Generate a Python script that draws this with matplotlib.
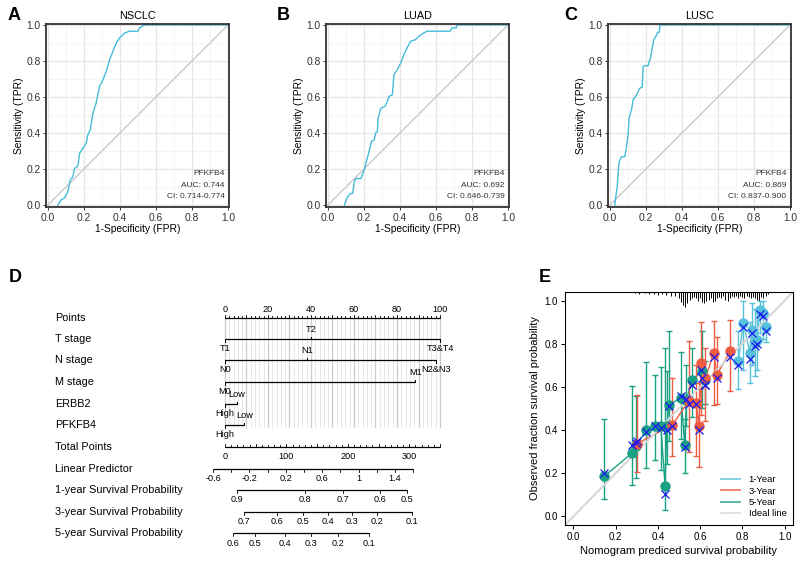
import matplotlib.pyplot as plt
from matplotlib.lines import Line2D

plt.rcParams['font.family'] = ['Liberation Sans', 'DejaVu Sans']

# ---------------- ROC data (panels A-C) ----------------
roc_letters = ['A', 'B', 'C']
roc_titles = ['NSCLC', 'LUAD', 'LUSC']
roc_gene = 'PFKFB4'
roc_auc = ['AUC: 0.744', 'AUC: 0.692', 'AUC: 0.869']
roc_ci = ['CI: 0.714-0.774', 'CI: 0.646-0.739', 'CI: 0.837-0.900']

nsclc_fpr = [0.056, 0.074, 0.093, 0.111, 0.124, 0.139, 0.148, 0.167, 0.176, 0.194, 0.213,
             0.222, 0.235, 0.250, 0.268, 0.287, 0.306, 0.324, 0.343, 0.361, 0.380, 0.398,
             0.426, 0.454, 0.500, 0.509, 0.528, 0.546, 1.0]
nsclc_tpr = [0.0, 0.03, 0.04, 0.074, 0.139, 0.158, 0.204, 0.217, 0.287, 0.315, 0.343,
             0.39, 0.417, 0.51, 0.566, 0.659, 0.696, 0.742, 0.807, 0.853, 0.90, 0.928,
             0.955, 0.965, 0.965, 0.983, 0.996, 1.0, 1.0]

luad_fpr = [0.092, 0.101, 0.110, 0.125, 0.138, 0.147, 0.156, 0.183, 0.202, 0.211, 0.229,
            0.242, 0.257, 0.266, 0.275, 0.279, 0.294, 0.316, 0.330, 0.339, 0.358, 0.367,
            0.385, 0.404, 0.422, 0.440, 0.459, 0.486, 0.505, 0.532, 0.550, 0.679, 0.688,
            0.712, 0.716, 1.0]
luad_tpr = [0.0, 0.028, 0.046, 0.065, 0.065, 0.13, 0.148, 0.148, 0.195, 0.232, 0.297,
            0.353, 0.362, 0.403, 0.408, 0.482, 0.538, 0.547, 0.575, 0.603, 0.612, 0.724,
            0.751, 0.788, 0.835, 0.872, 0.909, 0.918, 0.937, 0.955, 0.965, 0.965, 0.983,
            0.983, 1.0, 1.0]

lusc_fpr = [0.028, 0.033, 0.041, 0.046, 0.052, 0.065, 0.083, 0.093, 0.102, 0.107, 0.120,
            0.130, 0.144, 0.157, 0.167, 0.180, 0.185, 0.194, 0.213, 0.218, 0.226, 0.237,
            0.244, 0.256, 0.265, 0.274, 0.278, 1.0]
lusc_tpr = [0.0, 0.046, 0.102, 0.176, 0.241, 0.269, 0.269, 0.325, 0.399, 0.482, 0.529,
            0.588, 0.603, 0.631, 0.649, 0.655, 0.77, 0.774, 0.774, 0.798, 0.816, 0.881,
            0.918, 0.937, 0.959, 0.959, 1.0, 1.0]

roc_fpr = [nsclc_fpr, luad_fpr, lusc_fpr]
roc_tpr = [nsclc_tpr, luad_tpr, lusc_tpr]

# ---------------- nomogram data (panel D) ----------------
row_names = ['Points', 'T stage', 'N stage', 'M stage', 'ERBB2', 'PFKFB4', 'Total Points',
             'Linear Predictor', '1-year Survival Probability',
             '3-year Survival Probability', '5-year Survival Probability']

t_labels = ['T1', 'T2', 'T3&T4']
t_points = [0, 40, 100]
n_labels = ['N0', 'N1', 'N2&N3']
n_points = [0, 38, 98]
m_labels = ['M0', 'M1']
m_points = [0, 88.5]
erbb2_labels = ['High', 'Low']
erbb2_points = [0, 5.5]
pfkfb4_labels = ['High', 'Low']
pfkfb4_points = [0, 9]

total_max = 350
total_labels = [0, 100, 200, 300]

lp_ticks = [-0.6, -0.4, -0.2, 0.0, 0.2, 0.4, 0.6, 0.8, 1.0, 1.2, 1.4, 1.6]
lp_labels = ['-0.6', '-0.2', '0.2', '0.6', '1', '1.4']
lp_zero_total = 69.4      # total points where linear predictor = 0
lp_total_per_unit = 148.1

surv1_probs = ['0.9', '0.8', '0.7', '0.6', '0.5']
surv1_total = [19.5, 130.2, 192.1, 252.3, 296.3]
surv3_probs = ['0.7', '0.6', '0.5', '0.4', '0.3', '0.2', '0.1']
surv3_total = [30.9, 84.7, 127.0, 167.7, 206.7, 247.4, 304.4]
surv5_probs = ['0.6', '0.5', '0.4', '0.3', '0.2', '0.1']
surv5_total = [13.0, 48.8, 97.7, 140.0, 184.0, 234.4]

# ---------------- calibration data (panel E) ----------------
y1_pred = [0.781, 0.805, 0.836, 0.845, 0.859, 0.870, 0.883, 0.898, 0.911]
y1_obs = [0.719, 0.896, 0.757, 0.866, 0.804, 0.819, 0.958, 0.943, 0.878]
y1_lo = [0.590, 0.680, 0.620, 0.700, 0.650, 0.680, 0.850, 0.820, 0.810]
y1_hi = [0.860, 1.000, 0.900, 0.990, 0.960, 0.950, 1.000, 1.000, 0.940]
y1_cor = [0.700, 0.880, 0.730, 0.850, 0.790, 0.800, 0.940, 0.930, 0.860]

y3_pred = [0.302, 0.469, 0.545, 0.581, 0.594, 0.606, 0.625, 0.664, 0.680, 0.742]
y3_obs = [0.337, 0.425, 0.533, 0.526, 0.417, 0.711, 0.640, 0.757, 0.657, 0.765]
y3_lo = [0.204, 0.281, 0.300, 0.278, 0.229, 0.470, 0.440, 0.518, 0.520, 0.580]
y3_hi = [0.564, 0.641, 0.812, 0.700, 0.620, 0.900, 0.780, 0.904, 0.830, 0.912]
y3_cor = [0.350, 0.420, 0.520, 0.520, 0.400, 0.680, 0.610, 0.740, 0.640, 0.740]

y5_pred = [0.145, 0.278, 0.297, 0.344, 0.388, 0.414, 0.434, 0.442, 0.453, 0.510, 0.527,
           0.535, 0.563, 0.609, 0.625]
y5_obs = [0.185, 0.294, 0.325, 0.399, 0.417, 0.417, 0.142, 0.417, 0.518, 0.549, 0.332,
          0.540, 0.634, 0.672, 0.634]
y5_lo = [0.080, 0.147, 0.178, 0.224, 0.263, 0.216, 0.031, 0.244, 0.348, 0.360, 0.200,
         0.420, 0.460, 0.502, 0.520]
y5_hi = [0.451, 0.603, 0.560, 0.714, 0.657, 0.692, 0.781, 0.672, 0.858, 0.760, 0.450,
         0.700, 0.780, 0.858, 0.720]
y5_cor = [0.200, 0.330, 0.340, 0.390, 0.420, 0.410, 0.105, 0.400, 0.510, 0.560, 0.320,
          0.545, 0.610, 0.640, 0.610]

rug_x = [0.29, 0.31, 0.34, 0.36, 0.38, 0.40, 0.42, 0.44, 0.46, 0.48, 0.50, 0.51, 0.52,
         0.53, 0.54, 0.55, 0.56, 0.57, 0.58, 0.59, 0.60, 0.61, 0.62, 0.63, 0.64, 0.65,
         0.66, 0.67, 0.68, 0.69, 0.70, 0.71, 0.72, 0.73, 0.74, 0.75, 0.76, 0.77, 0.78,
         0.79, 0.80, 0.81, 0.82, 0.83, 0.84, 0.85, 0.86, 0.87, 0.88, 0.89, 0.90, 0.91,
         0.92]
rug_h = [0.005, 0.008, 0.006, 0.010, 0.008, 0.012, 0.010, 0.015, 0.018, 0.020, 0.030,
         0.045, 0.060, 0.070, 0.050, 0.035, 0.030, 0.025, 0.030, 0.040, 0.030, 0.045,
         0.050, 0.040, 0.035, 0.030, 0.045, 0.040, 0.030, 0.025, 0.030, 0.020, 0.035,
         0.040, 0.030, 0.020, 0.025, 0.020, 0.030, 0.020, 0.025, 0.030, 0.020, 0.025,
         0.030, 0.025, 0.030, 0.035, 0.040, 0.025, 0.030, 0.020, 0.010]

legend_names = ['1-Year', '3-Year', '5-Year', 'Ideal line']

# ---------------- styles ----------------
c_roc = '#45BCD8'
c1, c3, c5 = '#56C1DB', '#EE5C42', '#1AA083'
c_ideal = '#D6D6D6'

W, H = 799, 564
fig = plt.figure(figsize=(W / 100, H / 100), dpi=100)


def px_axes(left, top, right, bottom):
    return fig.add_axes([left / W, 1 - bottom / H, (right - left) / W, (bottom - top) / H])


def panel_letter(x, y, s):
    fig.text(x / W, 1 - y / H, s, fontsize=13, fontweight='bold', va='center', ha='left')


# ---------------- panels A-C ----------------
roc_lefts = [46, 326, 608]
letter_x = [8, 277, 564]
for i in range(3):
    ax = px_axes(roc_lefts[i], 24, roc_lefts[i] + 183, 207)
    ax.set_xlim(-0.01, 1.005)
    ax.set_ylim(-0.01, 1.005)
    ax.set_xticks([0, 0.2, 0.4, 0.6, 0.8, 1.0])
    ax.set_yticks([0, 0.2, 0.4, 0.6, 0.8, 1.0])
    ax.set_xticks([0.1, 0.3, 0.5, 0.7, 0.9], minor=True)
    ax.set_yticks([0.1, 0.3, 0.5, 0.7, 0.9], minor=True)
    ax.grid(which='major', color='#E6E6E6', lw=0.9)
    ax.grid(which='minor', color='#F0F0F0', lw=0.5)
    ax.set_axisbelow(True)
    ax.tick_params(which='minor', length=0)
    ax.tick_params(which='major', length=2.5, width=0.7, color='#333333',
                   labelsize=7.4, labelcolor='#333333', pad=1.5)
    for s in ax.spines.values():
        s.set_color('#333333')
        s.set_linewidth(1.3)
    ax.plot([0, 1], [0, 1], color='#BEBEBE', lw=0.8)
    ax.plot(roc_fpr[i], roc_tpr[i], color=c_roc, lw=1.0)
    ax.set_title(roc_titles[i], fontsize=7.8, pad=3.5)
    ax.set_xlabel('1-Specificity (FPR)', fontsize=7.4, labelpad=1.0)
    ax.set_ylabel('Sensitivity (TPR)', fontsize=7.4, labelpad=1.5)
    for txt, yy in zip([roc_gene, roc_auc[i], roc_ci[i]], [0.176, 0.111, 0.046]):
        ax.text(0.98, yy, txt, ha='right', va='center', fontsize=6.0, color='#333333')
    panel_letter(letter_x[i], 15, roc_letters[i])

# ---------------- panel D: nomogram ----------------
axd = fig.add_axes([0, 0, 530 / W, 279 / H])
axd.set_xlim(-104.65, 141.86)
axd.set_ylim(564, 285)
axd.axis('off')
row_y = [318, 339, 360, 382, 404, 425, 447, 469, 490, 512, 533]
lab_x = -79
lk = dict(color='black', lw=0.9, solid_capstyle='butt')

for name, yy in zip(row_names, row_y):
    axd.text(lab_x, yy, name, fontsize=7.8, va='center', ha='left')

# grid lines
for v in range(0, 101, 2):
    major = v % 10 == 0
    axd.plot([v, v], [row_y[0], 427], color='#CCCCCC' if major else '#E3E3E3',
             lw=0.9 if major else 0.6, zorder=0)

# points axis
axd.plot([0, 100], [row_y[0], row_y[0]], **lk)
for v in range(0, 101, 2):
    ln = 3 if v % 10 == 0 else 1.6
    axd.plot([v, v], [row_y[0], row_y[0] - ln], color='black', lw=0.6)
for v in range(0, 101, 20):
    axd.text(v, row_y[0] - 9, str(v), fontsize=6.6, ha='center', va='center')


def category_row(yy, labels, pts, sides):
    axd.plot([min(pts), max(pts)], [yy, yy], **lk)
    for lab, p, sd in zip(labels, pts, sides):
        axd.plot([p, p], [yy, yy - 2.5 * sd], color='black', lw=0.7)
        axd.text(p, yy - 9.5 * sd, lab, fontsize=6.6, ha='center', va='center')


category_row(row_y[1], t_labels, t_points, [-1, 1, -1])
category_row(row_y[2], n_labels, n_points, [-1, 1, -1])
category_row(row_y[3], m_labels, m_points, [-1, 1])
category_row(row_y[4], erbb2_labels, erbb2_points, [-1, 1])
category_row(row_y[5], pfkfb4_labels, pfkfb4_points, [-1, 1])

tot_scale = 100 / total_max

# total points axis
yy = row_y[6]
axd.plot([0, total_max * tot_scale], [yy, yy], **lk)
for v in range(0, total_max + 1, 10):
    ln = 3 if v % 50 == 0 else 1.6
    axd.plot([v * tot_scale] * 2, [yy, yy - ln], color='black', lw=0.6)
for v in total_labels:
    axd.text(v * tot_scale, yy + 9.5, str(v), fontsize=6.6, ha='center', va='center')

# linear predictor
yy = row_y[7]
lp_pos = [(lp_zero_total + lp_total_per_unit * v) * tot_scale for v in lp_ticks]
axd.plot([lp_pos[0], lp_pos[-1]], [yy, yy], **lk)
for p in lp_pos:
    axd.plot([p, p], [yy, yy + 3], color='black', lw=0.6)
for p, lab in zip(lp_pos[::2], lp_labels):
    axd.text(p, yy + 9.5, lab, fontsize=6.6, ha='center', va='center')

# survival probabilities
for yy, probs, tots in [(row_y[8], surv1_probs, surv1_total),
                        (row_y[9], surv3_probs, surv3_total),
                        (row_y[10], surv5_probs, surv5_total)]:
    pos = [t * tot_scale for t in tots]
    axd.plot([pos[0], pos[-1]], [yy, yy], **lk)
    for p, lab in zip(pos, probs):
        axd.plot([p, p], [yy, yy + 3], color='black', lw=0.6)
        axd.text(p, yy + 10, lab, fontsize=6.6, ha='center', va='center')

panel_letter(9, 277, 'D')

# ---------------- panel E: calibration ----------------
axe = px_axes(565, 292, 793, 525)
axe.set_xlim(-0.04, 1.04)
axe.set_ylim(-0.04, 1.04)
axe.plot([-0.04, 1.04], [-0.04, 1.04], color=c_ideal, lw=1.4, zorder=2.5)
axe.vlines(rug_x, [1.04 - h for h in rug_h], 1.04, color='black', lw=0.7)

for pred, obs, lo, hi, cor, col in [(y5_pred, y5_obs, y5_lo, y5_hi, y5_cor, c5),
                                    (y3_pred, y3_obs, y3_lo, y3_hi, y3_cor, c3),
                                    (y1_pred, y1_obs, y1_lo, y1_hi, y1_cor, c1)]:
    err = [[o - l for o, l in zip(obs, lo)], [h - o for o, h in zip(obs, hi)]]
    axe.errorbar(pred, obs, yerr=err, fmt='none', ecolor=col, elinewidth=1.0,
                 capsize=2, capthick=1.0, zorder=2)
    axe.plot(pred, obs, color=col, lw=1.0, zorder=2)
    axe.plot(pred, obs, 'o', color=col, ms=6.5, zorder=3)
    axe.plot(pred, cor, 'x', color='#1A1AF0', ms=6, mew=0.9, zorder=4)

ticks = [0, 0.2, 0.4, 0.6, 0.8, 1.0]
axe.set_xticks(ticks)
axe.set_yticks(ticks)
axe.set_xticklabels(['0.0', '0.2', '0.4', '0.6', '0.8', '1.0'])
axe.set_yticklabels(['0.0', '0.2', '0.4', '0.6', '0.8', '1.0'])
axe.tick_params(length=3, width=0.7, labelsize=7, pad=2)
for s in axe.spines.values():
    s.set_linewidth(0.8)
axe.set_xlabel('Nomogram prediced survival probability', fontsize=8, labelpad=3)
axe.set_ylabel('Observed fraction survival probability', fontsize=8, labelpad=3)

handles = [Line2D([], [], color=c, lw=1.3, alpha=0.8) for c in [c1, c3, c5, c_ideal]]
axe.legend(handles, legend_names, loc='lower right', frameon=False, fontsize=6.8,
           handlelength=2.0, handletextpad=0.9, labelspacing=0.25, borderaxespad=0.3)

panel_letter(539, 277, 'E')

fig.savefig('out.png', dpi=100)
